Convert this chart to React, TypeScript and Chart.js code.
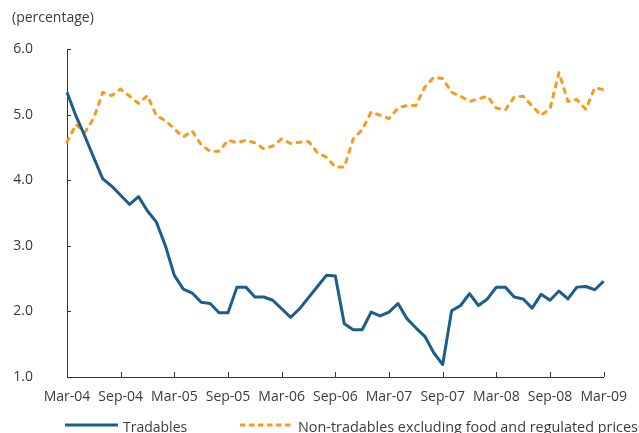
import React, { useEffect, useRef } from "react";
import { Chart, registerables } from "chart.js";

Chart.register(...registerables);

const months = ["Mar", "Apr", "May", "Jun", "Jul", "Aug", "Sep", "Oct", "Nov", "Dec", "Jan", "Feb"];
const startYear = 2004;
const categories: string[] = Array.from({ length: 61 }, (_, i) => {
  const yr = startYear + Math.floor((i + 2) / 12);
  return `${months[i % 12]}-${String(yr).slice(2)}`;
});

const tradables = [
  5.34, 4.98, 4.67, 4.34, 4.02, 3.91, 3.77, 3.63, 3.75, 3.53,
  3.36, 3.0, 2.55, 2.34, 2.28, 2.14, 2.12, 1.98, 1.98, 2.37,
  2.37, 2.22, 2.22, 2.17, 2.04, 1.91, 2.04, 2.21, 2.38, 2.55,
  2.54, 1.81, 1.72, 1.72, 1.99, 1.93, 1.99, 2.12, 1.89, 1.75,
  1.62, 1.37, 1.19, 2.01, 2.09, 2.27, 2.09, 2.19, 2.37, 2.37,
  2.22, 2.19, 2.05, 2.26, 2.17, 2.31, 2.19, 2.37, 2.38, 2.33,
  2.46,
];

const nonTradables = [
  4.58, 4.85, 4.73, 4.95, 5.34, 5.29, 5.39, 5.28, 5.17, 5.29,
  4.98, 4.91, 4.78, 4.66, 4.75, 4.54, 4.44, 4.44, 4.61, 4.57,
  4.61, 4.57, 4.48, 4.52, 4.63, 4.56, 4.58, 4.59, 4.42, 4.35,
  4.2, 4.2, 4.63, 4.77, 5.04, 4.99, 4.94, 5.1, 5.14, 5.14,
  5.42, 5.57, 5.55, 5.34, 5.28, 5.2, 5.24, 5.28, 5.1, 5.07,
  5.27, 5.28, 5.13, 4.99, 5.09, 5.64, 5.2, 5.23, 5.08, 5.41,
  5.38,
];

const yTicks = [1, 2, 3, 4, 5, 6];
const seriesNames = ["Tradables", "Non-tradables excluding food and regulated prices"];
const unitLabel = "(percentage)";

const BLUE = "#1c5d8a";
const ORANGE = "#f89a1c";
const TEXT = "#3b3b3b";
const AXIS = "#333333";
const FONT = "'Open Sans', sans-serif";

const decorPlugin = {
  id: "decor",
  afterDraw(chart: any) {
    const ctx = chart.ctx;
    const x = chart.scales.x;
    const y = chart.scales.y;
    const area = chart.chartArea;
    ctx.save();
    // inward tick marks
    ctx.strokeStyle = AXIS;
    ctx.lineWidth = 1;
    ctx.beginPath();
    yTicks.forEach((v) => {
      const py = Math.round(y.getPixelForValue(v)) + 0.5;
      ctx.moveTo(area.left, py);
      ctx.lineTo(area.left + 4, py);
    });
    categories.forEach((_, i) => {
      if (i % 6 !== 0) return;
      const px = Math.round(x.getPixelForValue(i)) + 0.5;
      ctx.moveTo(px, area.bottom);
      ctx.lineTo(px, area.bottom - 5);
    });
    ctx.stroke();

    // unit label
    ctx.fillStyle = TEXT;
    ctx.font = `14px ${FONT}`;
    ctx.textBaseline = "middle";
    ctx.textAlign = "left";
    ctx.fillText(unitLabel, 12, 18);

    // legend
    const ly = 425;
    ctx.lineWidth = 3;
    ctx.strokeStyle = BLUE;
    ctx.setLineDash([]);
    ctx.beginPath();
    ctx.moveTo(65, ly);
    ctx.lineTo(118, ly);
    ctx.stroke();
    ctx.strokeStyle = ORANGE;
    ctx.setLineDash([5.5, 3.5]);
    ctx.beginPath();
    ctx.moveTo(240, ly);
    ctx.lineTo(294, ly);
    ctx.stroke();
    ctx.setLineDash([]);
    ctx.textBaseline = "alphabetic";
    ctx.fillText(seriesNames[0], 123, 432);
    ctx.font = `14.4px ${FONT}`;
    ctx.fillText(seriesNames[1], 298, 432);
    ctx.restore();
  },
};

export default function App() {
  const ref = useRef<HTMLCanvasElement | null>(null);
  useEffect(() => {
    document.body.style.margin = "0";
    const chart = new Chart(ref.current as HTMLCanvasElement, {
      type: "line",
      data: {
        labels: categories,
        datasets: [
          {
            label: seriesNames[0],
            data: tradables,
            borderColor: BLUE,
            borderWidth: 3,
            pointRadius: 0,
            tension: 0,
            borderJoinStyle: "round",
          },
          {
            label: seriesNames[1],
            data: nonTradables,
            borderColor: ORANGE,
            borderWidth: 3,
            pointRadius: 0,
            tension: 0,
            borderDash: [4, 6.5],
            borderCapStyle: "round",
            borderJoinStyle: "round",
          },
        ],
      },
      options: {
        animation: false,
        responsive: true,
        maintainAspectRatio: false,
        layout: { padding: { top: 49, right: 26, left: 0, bottom: 0 } },
        plugins: { legend: { display: false }, tooltip: { enabled: false } },
        scales: {
          x: {
            grid: { display: false, drawTicks: false },
            border: { display: true, color: AXIS, width: 1 },
            ticks: {
              autoSkip: false,
              maxRotation: 0,
              padding: 12,
              color: TEXT,
              font: { family: FONT, size: 14 },
              callback: (_v: any, i: number) => (i % 6 === 0 ? categories[i] : ""),
            },
            afterFit: (s: any) => {
              s.height = 56;
            },
          },
          y: {
            min: 1,
            max: 6,
            grid: { display: false, drawTicks: false },
            border: { display: true, color: AXIS, width: 1 },
            ticks: {
              stepSize: 1,
              padding: 34,
              color: TEXT,
              font: { family: FONT, size: 14 },
              callback: (v: any) => Number(v).toFixed(1),
            },
            afterFit: (s: any) => {
              s.width = 67;
            },
          },
        },
      },
      plugins: [decorPlugin],
    });
    return () => chart.destroy();
  }, []);
  return (
    <div style={{ position: "absolute", left: 0, top: 0, width: 639, height: 433 }}>
      <canvas ref={ref} />
    </div>
  );
}
